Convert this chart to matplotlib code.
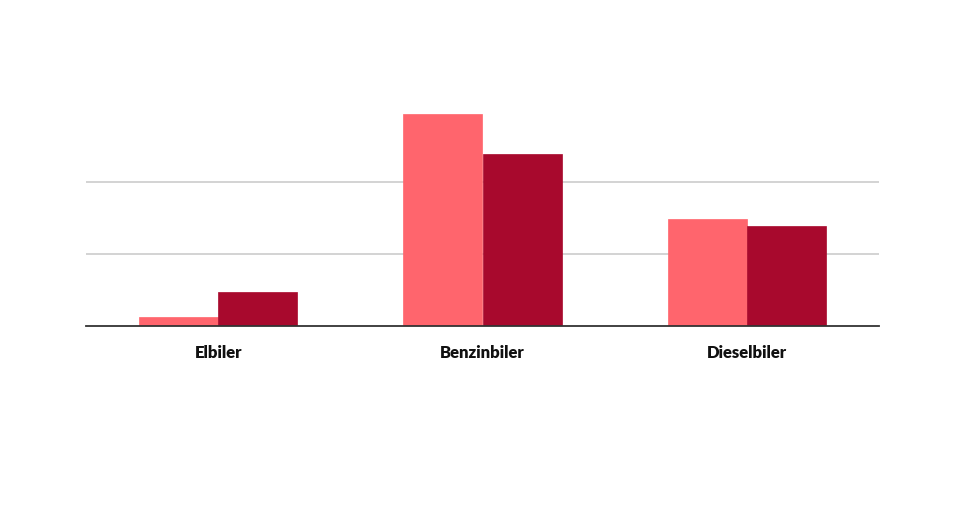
import matplotlib
matplotlib.use("Agg")
import matplotlib.pyplot as plt
import numpy as np

categories = ["Elbiler", "Benzinbiler", "Dieselbiler"]
series_a = [0.13, 2.94, 1.486]
series_b = [0.476, 2.385, 1.389]
gridlines = [1, 2]

color_a = "#FF656D"
color_b = "#A8092D"

fig = plt.figure(figsize=(9.6, 5.1), dpi=100)
ax = fig.add_axes([86/960, 1-327/510, (879-86)/960, (325-113)/510])

x = np.arange(len(categories))
w = 0.3
ax.bar(x - w/2, series_a, width=w, color=color_a, edgecolor=color_a, linewidth=0.5, zorder=3)
ax.bar(x + w/2, series_b, width=w, color=color_b, edgecolor=color_b, linewidth=0.5, zorder=3)

ax.set_xlim(-0.5, 2.5)
ax.set_ylim(0, 2.944)
ax.set_yticks(gridlines)
ax.yaxis.grid(True, color="#cccccc", linewidth=1.2, zorder=0)
ax.tick_params(axis="y", length=0, labelleft=False)
ax.set_xticks(x)
ax.set_xticklabels(categories, fontfamily="Lato", fontweight="heavy", fontsize=12, color="#111111")
ax.tick_params(axis="x", length=0, pad=13)
for s in ["top", "right", "left"]:
    ax.spines[s].set_visible(False)
ax.spines["bottom"].set_color("#333333")
ax.spines["bottom"].set_linewidth(1.3)
ax.spines["bottom"].set_zorder(4)

fig.savefig("out.png", dpi=100)
